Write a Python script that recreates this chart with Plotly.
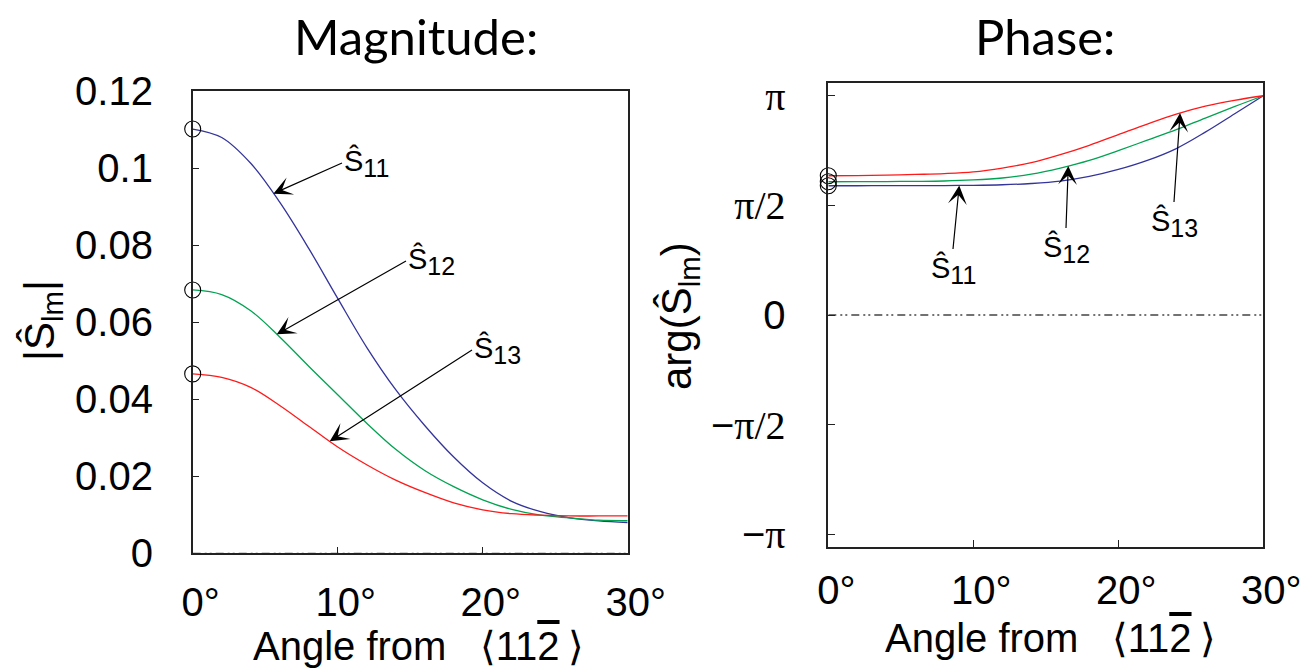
import numpy as np
import plotly.graph_objects as go

# ---------------- data ----------------
angles = [0, 2, 4, 6, 8, 10, 12, 14, 16, 18, 20, 22, 24, 26, 28, 30]

mag_s11 = [0.1102, 0.1080, 0.1013, 0.0912, 0.0792, 0.0662, 0.0535, 0.0425,
           0.0332, 0.0250, 0.0183, 0.0135, 0.0108, 0.0092, 0.0084, 0.0080]
mag_s12 = [0.0684, 0.0672, 0.0630, 0.0562, 0.0486, 0.0412, 0.0338, 0.0270,
           0.0215, 0.0173, 0.0139, 0.0114, 0.0099, 0.0092, 0.0086, 0.0085]
mag_s13 = [0.0466, 0.0457, 0.0431, 0.0384, 0.0330, 0.0276, 0.0230, 0.0190,
           0.0158, 0.0131, 0.0113, 0.0103, 0.0099, 0.0097, 0.0097, 0.0097]

phase_s11 = [1.852, 1.852, 1.854, 1.854, 1.855, 1.858, 1.866, 1.884,
             1.918, 1.985, 2.085, 2.215, 2.385, 2.620, 2.880, 3.1416]
phase_s12 = [1.909, 1.910, 1.912, 1.915, 1.920, 1.935, 1.963, 2.018,
             2.105, 2.215, 2.356, 2.505, 2.655, 2.822, 2.985, 3.1416]
phase_s13 = [1.995, 1.998, 2.004, 2.014, 2.026, 2.050, 2.105, 2.183,
             2.298, 2.432, 2.584, 2.736, 2.878, 2.992, 3.076, 3.1416]

series_names = ["11", "12", "13"]
series_colors = ["#34349c", "#00a351", "#ff1a1a"]

x_tick_vals = [0, 10, 20, 30]
x_tick_labels = ["0", "10", "20", "30"]
mag_tick_vals = [0, 0.02, 0.04, 0.06, 0.08, 0.1, 0.12]
mag_tick_labels = ["0", "0.02", "0.04", "0.06", "0.08", "0.1", "0.12"]
phase_tick_vals = [-np.pi, -np.pi / 2, 0, np.pi / 2, np.pi]
phase_tick_labels = ["−π", "−π/2", "0", "π/2", "π"]

# ---------------- layout helpers ----------------
W, H = 1313, 671
def fx(p):
    return p / W
def fy(p):
    return 1 - p / H

SANS = "Liberation Sans, Arial, Helvetica, sans-serif"
SERIF = "Liberation Serif, Times New Roman, serif"

def deg_label(s):
    return "<span style='color:rgba(0,0,0,0)'>°</span>" + s + "°"

def phase_label(s):
    if s == "0":
        return s
    if s.startswith("−"):
        return "−<span style='font-family:" + SERIF + "'>" + s[1:] + "</span>"
    return "<span style='font-family:" + SERIF + "'>" + s + "</span>"

def s_label(sub):
    return "Ŝ<sub><span style='font-size:25px'>" + sub + "</span></sub>"

# magnitude panel: px -> data
def mx(p):
    return (p - 192.7) / 14.5
def my(p):
    return (553.3 - p) / 3850.0
# phase panel: px -> data
def qx(p):
    return (p - 828.3) / 14.5
def qy(p):
    return (315.0 - p) / 109.7 * (np.pi / 2)

fig = go.Figure()

mags = [mag_s11, mag_s12, mag_s13]
phases = [phase_s11, phase_s12, phase_s13]

# zero reference lines
for xa, ya in [("x", "y"), ("x2", "y2")]:
    fig.add_trace(go.Scatter(x=[angles[0], angles[-1]], y=[0, 0], mode="lines",
                             line=dict(color="#444444", width=1.3,
                                       dash="8px,4px,2px,3px,2px,4px"),
                             xaxis=xa, yaxis=ya, showlegend=False, hoverinfo="skip"))

for vals, col in zip(mags, series_colors):
    fig.add_trace(go.Scatter(x=angles, y=vals, mode="lines",
                             line=dict(color=col, width=1.3, shape="spline", smoothing=1.0),
                             xaxis="x", yaxis="y", showlegend=False))
for vals, col in zip(phases, series_colors):
    fig.add_trace(go.Scatter(x=angles, y=vals, mode="lines",
                             line=dict(color=col, width=1.3, shape="spline", smoothing=1.0),
                             xaxis="x2", yaxis="y2", showlegend=False))

# open circles at 0 degrees
fig.add_trace(go.Scatter(x=[angles[0]] * 3, y=[m[0] for m in mags], mode="markers",
                         marker=dict(symbol="circle-open", size=16, color="black",
                                     line=dict(width=1.1)),
                         cliponaxis=False, xaxis="x", yaxis="y", showlegend=False))
fig.add_trace(go.Scatter(x=[angles[0]] * 3, y=[p[0] for p in phases], mode="markers",
                         marker=dict(symbol="circle-open", size=16, color="black",
                                     line=dict(width=1.1)),
                         cliponaxis=False, xaxis="x2", yaxis="y2", showlegend=False))

axis_common = dict(showgrid=False, zeroline=False, showline=True, mirror=True,
                   linecolor="#222222", linewidth=1.5, ticks="inside", ticklen=7,
                   tickwidth=1.3, tickcolor="#222222", automargin=False,
                   tickfont=dict(family=SANS, size=40, color="black"))

fig.update_layout(
    width=W, height=H, margin=dict(l=0, r=0, t=0, b=0, pad=0, autoexpand=False),
    paper_bgcolor="white", plot_bgcolor="white", showlegend=False,
    xaxis=dict(domain=[fx(192.7), fx(627.7)], range=[0, 30], anchor="y",
               tickvals=x_tick_vals, ticktext=[deg_label(s) for s in x_tick_labels],
               ticklabelstandoff=13, **axis_common),
    yaxis=dict(domain=[fy(553.3), fy(91.3)], range=[0, 0.12], anchor="x",
               tickvals=mag_tick_vals, ticktext=mag_tick_labels,
               ticklabelstandoff=30, **axis_common),
    xaxis2=dict(domain=[fx(828.3), fx(1263.3)], range=[0, 30], anchor="y2",
                tickvals=x_tick_vals, ticktext=[deg_label(s) for s in x_tick_labels],
                ticklabelstandoff=8, **axis_common),
    yaxis2=dict(domain=[fy(546.7), fy(83.3)], range=[-3.32, 3.32], anchor="x2",
                tickvals=phase_tick_vals, ticktext=[phase_label(s) for s in phase_tick_labels],
                ticklabelstandoff=33, **axis_common),
)

ann = []
# panel titles
ann.append(dict(text="Magnitude:", x=fx(416), y=fy(36), xref="paper", yref="paper",
                showarrow=False, xanchor="center", yanchor="middle",
                font=dict(family="Lato, sans-serif", size=49, color="black")))
ann.append(dict(text="Phase:", x=fx(1045), y=fy(36), xref="paper", yref="paper",
                showarrow=False, xanchor="center", yanchor="middle",
                font=dict(family="Lato, sans-serif", size=49, color="black")))
# x axis titles
xt = ("Angle from\u00a0\u00a0 ⟨11<span style='text-decoration:overline'>2</span>"
      "\u2009⟩")
ann.append(dict(text=xt, x=fx(418), y=fy(646), xref="paper", yref="paper",
                showarrow=False, xanchor="center", yanchor="middle",
                font=dict(family=SANS, size=40, color="black")))
ann.append(dict(text=xt, x=fx(1050), y=fy(638), xref="paper", yref="paper",
                showarrow=False, xanchor="center", yanchor="middle",
                font=dict(family=SANS, size=40, color="black")))
# y axis titles
ann.append(dict(text="|Ŝ<sub>lm</sub>|", x=fx(42), y=fy(321), xref="paper", yref="paper",
                showarrow=False, xanchor="center", yanchor="middle", textangle=-90,
                font=dict(family=SANS, size=42, color="black")))
ann.append(dict(text="arg(Ŝ<sub>lm</sub>)", x=fx(679), y=fy(316), xref="paper", yref="paper",
                showarrow=False, xanchor="center", yanchor="middle", textangle=-90,
                font=dict(family=SANS, size=42, color="black")))

# labelled arrows, magnitude panel (tail = left-middle of label)
mag_tip_x = [5.56, 5.8, 9.45]
mag_tail_px = [(342, 163), (406, 261), (472, 350)]
for i in range(3):
    tx = mag_tip_x[i]
    ty = float(np.interp(tx, angles, mags[i]))
    ann.append(dict(x=tx, y=ty, ax=mx(mag_tail_px[i][0]), ay=my(mag_tail_px[i][1]),
                    xref="x", yref="y", axref="x", ayref="y",
                    text=s_label(series_names[i]), xanchor="left", yanchor="middle",
                    showarrow=True, arrowhead=3, arrowsize=2.6, arrowwidth=1.2,
                    arrowcolor="black", standoff=0,
                    font=dict(family=SANS, size=29, color="black")))

# labelled arrows, phase panel (tail = top-centre of label)
ph_tip_x = [9.03, 16.55, 24.26]
ph_tail_px = [(953, 249), (1066, 228), (1174, 202)]
for i in range(3):
    tx = ph_tip_x[i]
    ty = float(np.interp(tx, angles, phases[i]))
    ann.append(dict(x=tx, y=ty, ax=qx(ph_tail_px[i][0]), ay=qy(ph_tail_px[i][1]),
                    xref="x2", yref="y2", axref="x2", ayref="y2",
                    text=s_label(series_names[i]), xanchor="center", yanchor="top",
                    showarrow=True, arrowhead=3, arrowsize=2.6, arrowwidth=1.2,
                    arrowcolor="black", standoff=0,
                    font=dict(family=SANS, size=29, color="black")))

fig.update_layout(annotations=ann)
fig.write_html("out.html")
